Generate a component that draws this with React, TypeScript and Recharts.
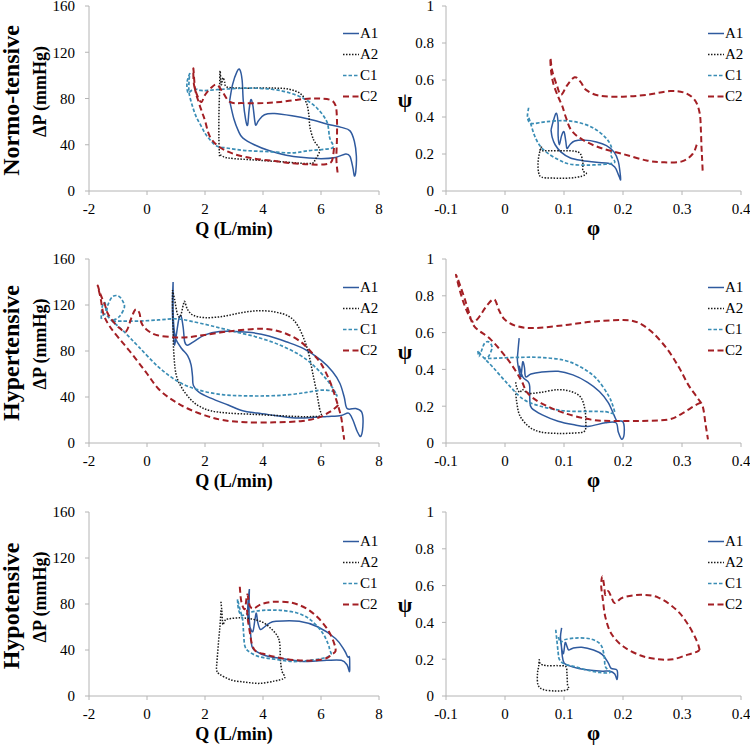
import React from "react";
import { LineChart, Line, XAxis, YAxis, Legend } from "recharts";

type Pt = [number, number];

/* Q (L/min) vs ΔP (mmHg), normotensive */
const NORMO_Q_A1: Pt[] = [
  [2.85, 78], [2.95, 92], [3.1, 103], [3.2, 105], [3.28, 96], [3.32, 78], [3.4, 62],
  [3.47, 57], [3.52, 70], [3.58, 79], [3.65, 74], [3.72, 60], [3.76, 57], [3.85, 61],
  [4.05, 66], [4.4, 67], [5.0, 65], [5.6, 62], [6.2, 58], [6.7, 55], [7.0, 52],
  [7.15, 43], [7.22, 30], [7.2, 17], [7.15, 13], [7.1, 20], [7.0, 30], [6.85, 32],
  [6.5, 29], [6.0, 28], [5.4, 29], [4.8, 31], [4.2, 35], [3.7, 40], [3.3, 46],
  [3.15, 52], [3.0, 62], [2.85, 78],
];
const NORMO_Q_A2: Pt[] = [
  [2.5, 30], [2.48, 45], [2.48, 65], [2.5, 85], [2.52, 104], [2.56, 92], [2.62, 98],
  [2.68, 94], [2.75, 90], [3.2, 89], [3.8, 89], [4.4, 89], [4.9, 88], [5.3, 84],
  [5.5, 76], [5.58, 66], [5.62, 55], [5.75, 44], [5.92, 38], [5.95, 34], [5.8, 27],
  [5.7, 24], [5.3, 24], [4.8, 25], [4.2, 26], [3.6, 27], [3.0, 28], [2.7, 29],
  [2.55, 31], [2.5, 30],
];
const NORMO_Q_C1: Pt[] = [
  [1.48, 102], [1.38, 94], [1.41, 85], [1.54, 87], [1.7, 88], [1.85, 87], [2.1, 87],
  [2.6, 88], [3.5, 89], [4.3, 88], [4.9, 85], [5.4, 80], [5.85, 72], [6.2, 60],
  [6.3, 46], [6.42, 38], [6.1, 36], [5.6, 35], [5.0, 33], [4.2, 34], [3.4, 35],
  [2.8, 37], [2.4, 39], [2.15, 45], [2.0, 50], [1.85, 57], [1.7, 64], [1.56, 74],
  [1.45, 85], [1.45, 95], [1.48, 102],
];
const NORMO_Q_C2: Pt[] = [
  [6.57, 16], [6.53, 28], [6.55, 45], [6.55, 62], [6.5, 74], [6.3, 79], [5.8, 80],
  [5.2, 79], [4.6, 77], [4.0, 76], [3.3, 76], [2.86, 77], [2.6, 86], [2.4, 92],
  [2.2, 89], [2.0, 83], [1.88, 77], [1.76, 81], [1.62, 92], [1.6, 106], [1.66, 88],
  [1.78, 77], [1.9, 68], [2.0, 61], [2.17, 47], [2.5, 38], [3.0, 32], [3.7, 28],
  [4.4, 26], [5.0, 24], [5.6, 23], [6.1, 23], [6.35, 25], [6.42, 31], [6.45, 38],
];

/* φ vs ψ, normotensive */
const NORMO_P_A1: Pt[] = [
  [0.078, 0.33], [0.082, 0.38], [0.087, 0.42], [0.09, 0.37], [0.09, 0.3], [0.092, 0.25],
  [0.096, 0.3], [0.1, 0.32], [0.103, 0.27], [0.105, 0.23], [0.11, 0.25], [0.118, 0.27],
  [0.135, 0.275], [0.155, 0.265], [0.172, 0.245], [0.185, 0.21], [0.192, 0.16],
  [0.195, 0.1], [0.196, 0.06], [0.192, 0.09], [0.186, 0.13], [0.175, 0.15],
  [0.155, 0.155], [0.13, 0.165], [0.11, 0.18], [0.095, 0.21], [0.085, 0.25],
  [0.08, 0.29], [0.078, 0.33],
];
const NORMO_P_A2: Pt[] = [
  [0.062, 0.24], [0.06, 0.22], [0.075, 0.218], [0.1, 0.218], [0.118, 0.215],
  [0.128, 0.2], [0.132, 0.15], [0.132, 0.11], [0.138, 0.095], [0.13, 0.08],
  [0.11, 0.07], [0.08, 0.07], [0.062, 0.075], [0.057, 0.1], [0.056, 0.15],
  [0.058, 0.2], [0.062, 0.24],
];
const NORMO_P_C1: Pt[] = [
  [0.04, 0.45], [0.038, 0.4], [0.042, 0.37], [0.05, 0.365], [0.07, 0.375], [0.1, 0.38],
  [0.125, 0.37], [0.15, 0.34], [0.17, 0.29], [0.18, 0.24], [0.18, 0.19], [0.186, 0.155],
  [0.17, 0.145], [0.14, 0.14], [0.11, 0.145], [0.09, 0.17], [0.07, 0.21], [0.058, 0.25],
  [0.05, 0.3], [0.044, 0.36], [0.04, 0.4],
];
const NORMO_P_C2: Pt[] = [
  [0.325, 0.25], [0.318, 0.2], [0.3, 0.16], [0.27, 0.155], [0.24, 0.165], [0.2, 0.2],
  [0.16, 0.235], [0.13, 0.28], [0.112, 0.33], [0.103, 0.4], [0.097, 0.46], [0.09, 0.51],
  [0.082, 0.58], [0.078, 0.65], [0.077, 0.72], [0.08, 0.65], [0.088, 0.57], [0.095, 0.52],
  [0.105, 0.57], [0.118, 0.615], [0.128, 0.59], [0.138, 0.545], [0.16, 0.515],
  [0.2, 0.51], [0.24, 0.52], [0.28, 0.54], [0.305, 0.53], [0.322, 0.49], [0.33, 0.42],
  [0.332, 0.33], [0.333, 0.24], [0.334, 0.18], [0.335, 0.11],
];

/* Q vs ΔP, hypertensive */
const HYPER_Q_A1: Pt[] = [
  [0.9, 140], [0.88, 125], [0.88, 110], [0.92, 92], [0.95, 85], [1.0, 92], [1.1, 108],
  [1.18, 110], [1.25, 100], [1.3, 88], [1.4, 85], [1.6, 88], [2.0, 94], [2.5, 97],
  [3.0, 97], [3.6, 96], [4.2, 93], [4.8, 88], [5.4, 82], [6.0, 72], [6.4, 62],
  [6.65, 52], [6.8, 40], [6.9, 30], [7.2, 30], [7.4, 27], [7.45, 18], [7.38, 6],
  [7.25, 10], [7.1, 20], [6.95, 26], [6.7, 24], [6.2, 23], [5.6, 22], [5.0, 22],
  [4.4, 24], [3.8, 26], [3.3, 28], [2.8, 33], [2.2, 39], [1.8, 44], [1.6, 50],
  [1.57, 58], [1.52, 68], [1.4, 76], [1.2, 82], [1.0, 90], [0.93, 100], [0.9, 115],
  [0.9, 140],
];
const HYPER_Q_A2: Pt[] = [
  [0.88, 133], [0.95, 125], [1.05, 112], [1.15, 110], [1.25, 120], [1.3, 123],
  [1.4, 116], [1.6, 111], [2.0, 109], [2.6, 110], [3.2, 113], [3.8, 115], [4.4, 114],
  [4.9, 110], [5.2, 102], [5.45, 88], [5.6, 75], [5.72, 60], [5.85, 44], [5.95, 30],
  [6.0, 24], [5.7, 23], [5.2, 23], [4.4, 24], [3.6, 25], [2.8, 26], [2.2, 28],
  [1.8, 32], [1.5, 38], [1.2, 48], [1.0, 60], [0.92, 80], [0.9, 100], [0.88, 120],
  [0.88, 133],
];
const HYPER_Q_C1: Pt[] = [
  [-1.58, 108], [-1.55, 118], [-1.45, 122], [-1.4, 114], [-1.35, 120], [-1.2, 127],
  [-1.0, 128], [-0.85, 124], [-0.78, 118], [-0.95, 110], [-1.2, 106], [-0.9, 106],
  [-0.3, 106], [0.4, 107], [1.0, 108], [1.5, 106], [2.2, 102], [3.0, 97], [3.8, 92],
  [4.6, 85], [5.3, 76], [5.8, 66], [6.2, 55], [6.45, 46], [6.55, 41], [6.4, 45],
  [6.0, 46], [5.5, 44], [4.9, 42], [4.2, 41], [3.4, 41], [2.6, 42], [1.8, 46],
  [1.1, 53], [0.4, 66], [-0.3, 84], [-0.8, 97], [-1.2, 106], [-1.45, 112], [-1.58, 108],
];
const HYPER_Q_C2: Pt[] = [
  [6.6, 33], [6.3, 27], [5.9, 22], [5.3, 19], [4.4, 18], [3.4, 18], [2.6, 20],
  [2.0, 24], [1.4, 30], [0.9, 37], [0.4, 47], [-0.05, 62], [-0.6, 80], [-1.0, 92],
  [-1.3, 102], [-1.5, 112], [-1.6, 126], [-1.7, 137], [-1.6, 129], [-1.45, 120],
  [-1.36, 113], [-1.18, 106], [-0.95, 100], [-0.72, 97], [-0.55, 108], [-0.4, 116],
  [-0.26, 113], [-0.2, 105], [-0.03, 99], [0.31, 94], [0.9, 92], [1.4, 92], [2.0, 94],
  [2.8, 97], [3.6, 99], [4.2, 99], [4.8, 95], [5.3, 88], [5.7, 78], [6.0, 69],
  [6.3, 54], [6.52, 38], [6.69, 23], [6.75, 12], [6.8, 3],
];

/* φ vs ψ, hypertensive */
const HYPER_P_A1: Pt[] = [
  [0.024, 0.57], [0.022, 0.5], [0.021, 0.45], [0.024, 0.39], [0.027, 0.36], [0.03, 0.44],
  [0.033, 0.41], [0.035, 0.36], [0.044, 0.375], [0.06, 0.385], [0.09, 0.39],
  [0.115, 0.37], [0.14, 0.33], [0.16, 0.28], [0.175, 0.22], [0.185, 0.15], [0.19, 0.12],
  [0.2, 0.115], [0.202, 0.05], [0.198, 0.02], [0.192, 0.06], [0.188, 0.11], [0.17, 0.11],
  [0.14, 0.09], [0.115, 0.1], [0.09, 0.118], [0.065, 0.15], [0.045, 0.19], [0.042, 0.24],
  [0.042, 0.3], [0.04, 0.33], [0.03, 0.36], [0.024, 0.42],
];
const HYPER_P_A2: Pt[] = [
  [0.018, 0.33], [0.02, 0.3], [0.025, 0.275], [0.03, 0.29], [0.04, 0.27], [0.06, 0.275],
  [0.09, 0.29], [0.112, 0.28], [0.128, 0.25], [0.135, 0.19], [0.137, 0.12],
  [0.135, 0.065], [0.12, 0.055], [0.09, 0.052], [0.06, 0.06], [0.04, 0.09],
  [0.025, 0.15], [0.02, 0.22], [0.018, 0.28],
];
const HYPER_P_C1: Pt[] = [
  [-0.046, 0.5], [-0.044, 0.47], [-0.04, 0.5], [-0.035, 0.54], [-0.028, 0.55],
  [-0.022, 0.52], [-0.028, 0.47], [-0.035, 0.46], [-0.02, 0.46], [0.02, 0.465],
  [0.06, 0.465], [0.1, 0.45], [0.13, 0.41], [0.155, 0.35], [0.175, 0.26], [0.183, 0.2],
  [0.185, 0.16], [0.17, 0.17], [0.14, 0.172], [0.1, 0.175], [0.06, 0.2], [0.03, 0.24],
  [0.005, 0.32], [-0.02, 0.41], [-0.038, 0.47], [-0.046, 0.5],
];
const HYPER_P_C2: Pt[] = [
  [0.332, 0.22], [0.32, 0.2], [0.3, 0.16], [0.276, 0.127], [0.23, 0.12], [0.18, 0.12],
  [0.146, 0.127], [0.1, 0.163], [0.061, 0.217], [0.038, 0.272], [0.027, 0.344],
  [0.005, 0.453], [-0.024, 0.562], [-0.052, 0.634], [-0.062, 0.72], [-0.07, 0.8],
  [-0.083, 0.915], [-0.074, 0.8], [-0.065, 0.72], [-0.055, 0.66], [-0.045, 0.68],
  [-0.03, 0.75], [-0.018, 0.78], [-0.01, 0.72], [0.0, 0.67], [0.02, 0.635],
  [0.05, 0.625], [0.1, 0.64], [0.15, 0.66], [0.2, 0.668], [0.225, 0.655], [0.25, 0.6],
  [0.275, 0.51], [0.295, 0.41], [0.31, 0.32], [0.325, 0.25], [0.335, 0.2], [0.34, 0.1],
  [0.344, 0.02],
];

/* Q vs ΔP, hypotensive */
const HYPO_Q_A1: Pt[] = [
  [3.53, 93], [3.48, 80], [3.48, 68], [3.55, 60], [3.65, 56], [3.72, 66], [3.77, 72],
  [3.82, 64], [3.9, 58], [4.0, 59], [4.2, 63], [4.45, 65], [5.25, 65], [5.9, 60],
  [6.5, 50], [6.8, 40], [6.92, 34], [6.98, 34], [6.99, 27], [6.98, 21], [6.9, 27],
  [6.7, 31], [6.2, 31], [5.5, 30], [4.8, 32], [4.1, 35], [3.75, 39], [3.62, 43],
  [3.57, 55], [3.52, 70], [3.53, 93],
];
const HYPO_Q_A2: Pt[] = [
  [2.55, 82], [2.58, 74], [2.6, 66], [2.62, 62], [2.7, 66], [2.8, 67], [3.2, 68],
  [3.6, 67], [4.0, 64], [4.3, 58], [4.5, 52], [4.58, 45], [4.6, 32], [4.65, 22],
  [4.75, 17], [4.7, 15], [4.4, 13], [3.9, 11], [3.4, 12], [2.9, 14], [2.5, 19],
  [2.4, 23], [2.42, 32], [2.47, 48], [2.52, 62], [2.55, 75],
];
const HYPO_Q_C1: Pt[] = [
  [3.12, 84], [3.15, 76], [3.22, 71], [3.3, 70], [3.6, 73], [4.0, 74.5], [4.6, 74.5],
  [5.2, 72], [5.65, 66], [6.05, 55], [6.25, 45], [6.3, 40], [6.34, 36], [6.1, 33],
  [5.6, 31], [5.0, 30], [4.4, 32], [3.9, 34], [3.55, 38], [3.38, 43], [3.33, 55],
  [3.3, 66], [3.2, 76], [3.12, 84],
];
const HYPO_Q_C2: Pt[] = [
  [3.2, 95], [3.24, 84], [3.3, 78], [3.38, 76], [3.45, 88], [3.5, 84], [3.55, 78],
  [3.68, 76], [3.95, 80], [4.4, 82], [5.0, 81], [5.5, 76], [5.9, 68], [6.25, 57],
  [6.45, 46], [6.5, 39], [6.35, 36], [6.2, 33], [5.8, 31], [5.2, 31], [4.6, 33],
  [4.1, 36], [3.75, 39], [3.62, 45], [3.55, 55], [3.48, 66], [3.45, 75],
];

/* φ vs ψ, hypotensive */
const HYPO_P_A1: Pt[] = [
  [0.096, 0.37], [0.094, 0.32], [0.096, 0.26], [0.099, 0.23], [0.102, 0.29],
  [0.105, 0.27], [0.108, 0.25], [0.115, 0.26], [0.13, 0.265], [0.15, 0.25],
  [0.165, 0.225], [0.175, 0.18], [0.18, 0.15], [0.19, 0.14], [0.19, 0.09],
  [0.186, 0.12], [0.178, 0.135], [0.165, 0.135], [0.145, 0.14], [0.125, 0.15],
  [0.108, 0.165], [0.1, 0.18], [0.097, 0.22], [0.095, 0.3],
];
const HYPO_P_A2: Pt[] = [
  [0.058, 0.2], [0.06, 0.175], [0.07, 0.165], [0.09, 0.165], [0.103, 0.16],
  [0.105, 0.12], [0.106, 0.06], [0.108, 0.04], [0.1, 0.03], [0.085, 0.027],
  [0.065, 0.035], [0.056, 0.06], [0.055, 0.12], [0.057, 0.16], [0.058, 0.2],
];
const HYPO_P_C1: Pt[] = [
  [0.086, 0.36], [0.088, 0.3], [0.09, 0.24], [0.092, 0.2], [0.1, 0.175], [0.12, 0.158],
  [0.14, 0.14], [0.16, 0.128], [0.178, 0.128], [0.17, 0.16], [0.168, 0.22],
  [0.162, 0.28], [0.145, 0.31], [0.12, 0.315], [0.1, 0.305], [0.094, 0.29], [0.09, 0.33],
];
const HYPO_P_C2: Pt[] = [
  [0.33, 0.25], [0.325, 0.3], [0.31, 0.39], [0.29, 0.47], [0.26, 0.535], [0.23, 0.55],
  [0.2, 0.535], [0.186, 0.505], [0.18, 0.54], [0.175, 0.57], [0.17, 0.55], [0.168, 0.6],
  [0.165, 0.65], [0.163, 0.6], [0.166, 0.52], [0.17, 0.43], [0.18, 0.34], [0.2, 0.27],
  [0.23, 0.22], [0.26, 0.2], [0.285, 0.2], [0.31, 0.225], [0.325, 0.24], [0.33, 0.25],
];

const Q_TICKS = [-2, 0, 2, 4, 6, 8];
const DP_TICKS = [0, 40, 80, 120, 160];
const PHI_TICKS = [-0.1, 0, 0.1, 0.2, 0.3, 0.4];
const PSI_TICKS = [0, 0.2, 0.4, 0.6, 0.8, 1];
const SERIES_NAMES = ["A1", "A2", "C1", "C2"];
const ROW_NAMES = ["Normo-tensive", "Hypertensive", "Hypotensive"];

const FONT = "'Liberation Serif', 'Times New Roman', Times, serif";
const AXIS_COLOR = "#b4b4b4";
const TOP_PAD = 14;

const STYLES: Record<string, { color: string; dash?: string; width: number }> = {
  A1: { color: "#2f5a9e", width: 1.5 },
  A2: { color: "#1a1a1a", dash: "1.5 1.5", width: 1.5 },
  C1: { color: "#3a8db5", dash: "3.5 2", width: 1.7 },
  C2: { color: "#a31f24", dash: "6 3.5", width: 2 },
};

const toRows = (pts: Pt[]) => pts.map(([x, y]) => ({ x, y }));

/* Catmull-Rom curve so the loops bend smoothly through every read point */
function smoothCurve(context: any) {
  let pts: number[][] = [];
  return {
    areaStart() {},
    areaEnd() {},
    lineStart() {
      pts = [];
    },
    point(x: number, y: number) {
      pts.push([+x, +y]);
    },
    lineEnd() {
      const n = pts.length;
      if (!n) return;
      context.moveTo(pts[0][0], pts[0][1]);
      for (let i = 0; i < n - 1; i++) {
        const p0 = pts[i - 1] || pts[i];
        const p1 = pts[i];
        const p2 = pts[i + 1];
        const p3 = pts[i + 2] || p2;
        context.bezierCurveTo(
          p1[0] + (p2[0] - p0[0]) / 6,
          p1[1] + (p2[1] - p0[1]) / 6,
          p2[0] - (p3[0] - p1[0]) / 6,
          p2[1] - (p3[1] - p1[1]) / 6,
          p2[0],
          p2[1]
        );
      }
    },
  };
}

function LegendBox() {
  return (
    <div style={{ fontFamily: FONT, fontSize: 15, color: "#000" }}>
      {SERIES_NAMES.map((name) => {
        const s = STYLES[name];
        return (
          <div key={name} style={{ display: "flex", alignItems: "center", height: 21 }}>
            <svg width={16} height={21}>
              <line
                x1={0}
                x2={16}
                y1={10.5}
                y2={10.5}
                stroke={s.color}
                strokeWidth={s.width}
                strokeDasharray={s.dash}
              />
            </svg>
            <span style={{ marginLeft: 1, lineHeight: "21px", fontFamily: FONT }}>{name}</span>
          </div>
        );
      })}
    </div>
  );
}

function AxisTick(props: any) {
  const { x, y, payload, textAnchor, orientation } = props;
  const dy = orientation === "bottom" ? "0.71em" : "0.355em";
  return (
    <text
      x={x}
      y={y}
      dy={dy}
      textAnchor={textAnchor}
      fontFamily={FONT}
      fontSize={15}
      fill="#000"
      style={{ fontFamily: FONT }}
    >
      {payload.value}
    </text>
  );
}

interface PanelProps {
  left: number;
  top: number;
  width: number;
  plotHeight: number;
  yAxisWidth: number;
  marginRight: number;
  xDomain: [number, number];
  xTicks: number[];
  yDomain: [number, number];
  yTicks: number[];
  series: Pt[][];
  xTitle: string;
  yTitle: string;
  greekY: boolean;
  tickGap: number;
  legendLeft: number;
  legendTop: number;
}

function Panel(p: PanelProps) {
  const xLabel = (props: any) => {
    const vb = props.viewBox;
    return (
      <text
        x={vb.x + vb.width / 2}
        y={vb.y + 44}
        textAnchor="middle"
        fontFamily={FONT}
        fontWeight="bold"
        fontSize={p.greekY ? 21 : 18}
        fill="#000"
      >
        {p.xTitle}
      </text>
    );
  };
  const yLabel = (props: any) => {
    const vb = props.viewBox;
    const cy = vb.y + vb.height / 2;
    if (p.greekY) {
      return (
        <text
          x={vb.x + 30}
          y={cy + 8}
          textAnchor="middle"
          fontFamily={FONT}
          fontWeight="bold"
          fontSize={21}
          fill="#000"
        >
          {p.yTitle}
        </text>
      );
    }
    return (
      <text
        x={vb.x + 46}
        y={cy - 7}
        textAnchor="middle"
        transform={`rotate(-90, ${vb.x + 46}, ${cy - 7})`}
        fontFamily={FONT}
        fontWeight="bold"
        fontSize={18}
        fill="#000"
      >
        {p.yTitle}
      </text>
    );
  };
  return (
    <div style={{ position: "absolute", left: p.left, top: p.top }}>
      <LineChart
        width={p.width}
        height={TOP_PAD + p.plotHeight + 50}
        margin={{ top: TOP_PAD, right: p.marginRight, bottom: 0, left: 0 }}
      >
        <XAxis
          type="number"
          dataKey="x"
          domain={p.xDomain}
          ticks={p.xTicks}
          interval={0}
          allowDataOverflow
          height={50}
          tickSize={4}
          tickMargin={8}
          stroke={AXIS_COLOR}
          tick={<AxisTick />}
          label={xLabel}
        />
        <YAxis
          type="number"
          dataKey="y"
          domain={p.yDomain}
          ticks={p.yTicks}
          interval={0}
          allowDataOverflow
          width={p.yAxisWidth}
          tickSize={4}
          tickMargin={p.tickGap}
          stroke={AXIS_COLOR}
          tick={<AxisTick />}
          label={yLabel}
        />
        <Legend
          layout="vertical"
          align="center"
          verticalAlign="middle"
          content={() => <LegendBox />}
          wrapperStyle={{ left: p.legendLeft, top: p.legendTop, width: 50, height: 84 }}
        />
        {p.series.map((pts, i) => {
          const name = SERIES_NAMES[i];
          const s = STYLES[name];
          return (
            <Line
              key={name}
              name={name}
              data={toRows(pts)}
              dataKey="y"
              type={smoothCurve as any}
              stroke={s.color}
              strokeWidth={s.width}
              strokeDasharray={s.dash}
              dot={false}
              activeDot={false}
              isAnimationActive={false}
            />
          );
        })}
      </LineChart>
    </div>
  );
}

const ROWS = [
  { plotTop: 6, plotBottom: 191, q: [NORMO_Q_A1, NORMO_Q_A2, NORMO_Q_C1, NORMO_Q_C2], p: [NORMO_P_A1, NORMO_P_A2, NORMO_P_C1, NORMO_P_C2], legendTop: 23 },
  { plotTop: 259, plotBottom: 443, q: [HYPER_Q_A1, HYPER_Q_A2, HYPER_Q_C1, HYPER_Q_C2], p: [HYPER_P_A1, HYPER_P_A2, HYPER_P_C1, HYPER_P_C2], legendTop: 24 },
  { plotTop: 512, plotBottom: 696, q: [HYPO_Q_A1, HYPO_Q_A2, HYPO_Q_C1, HYPO_Q_C2], p: [HYPO_P_A1, HYPO_P_A2, HYPO_P_C1, HYPO_P_C2], legendTop: 25 },
];

export default function App() {
  return (
    <div
      style={{
        position: "absolute",
        left: 0,
        top: 0,
        width: 750,
        height: 745,
        background: "#fff",
        overflow: "hidden",
        fontFamily: FONT,
      }}
    >
      {ROWS.map((row, r) => (
        <React.Fragment key={r}>
          <Panel
            left={0}
            top={row.plotTop - TOP_PAD}
            width={390}
            plotHeight={row.plotBottom - row.plotTop}
            yAxisWidth={89}
            marginRight={11}
            xDomain={[-2, 8]}
            xTicks={Q_TICKS}
            yDomain={[0, 160]}
            yTicks={DP_TICKS}
            series={row.q}
            xTitle="Q (L/min)"
            yTitle="ΔP (mmHg)"
            greekY={false}
            tickGap={10}
            legendLeft={343}
            legendTop={row.legendTop + TOP_PAD - 6}
          />
          <Panel
            left={375}
            top={row.plotTop - TOP_PAD}
            width={375}
            plotHeight={row.plotBottom - row.plotTop}
            yAxisWidth={71}
            marginRight={9}
            xDomain={[-0.1, 0.4]}
            xTicks={PHI_TICKS}
            yDomain={[0, 1]}
            yTicks={PSI_TICKS}
            series={row.p}
            xTitle="φ"
            yTitle="ψ"
            greekY={true}
            tickGap={8}
            legendLeft={333}
            legendTop={row.legendTop + TOP_PAD - 6}
          />
        </React.Fragment>
      ))}
      <svg
        width={40}
        height={745}
        style={{ position: "absolute", left: 0, top: 0, pointerEvents: "none" }}
      >
        {ROWS.map((row, r) => {
          const cy = (row.plotTop + row.plotBottom) / 2 + 2;
          return (
            <text
              key={r}
              x={19}
              y={cy}
              textAnchor="middle"
              transform={`rotate(-90, 19, ${cy})`}
              fontFamily={FONT}
              fontWeight="bold"
              fontSize={24}
              fill="#000"
            >
              {ROW_NAMES[r]}
            </text>
          );
        })}
      </svg>
    </div>
  );
}
